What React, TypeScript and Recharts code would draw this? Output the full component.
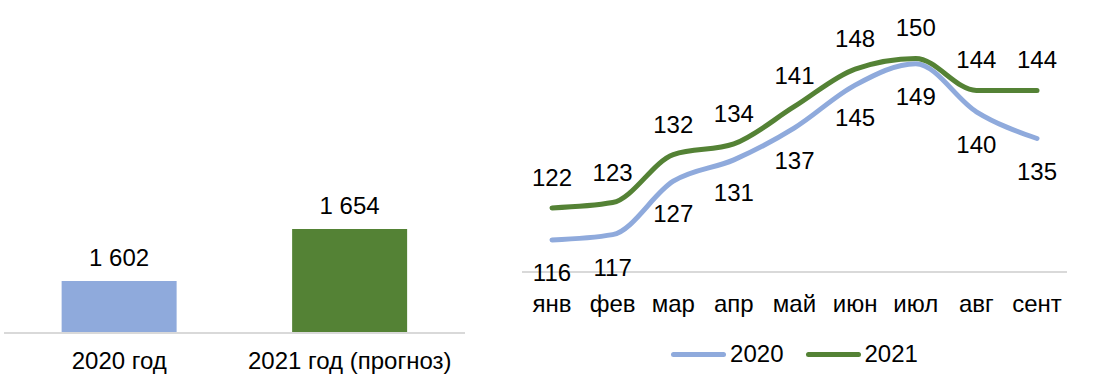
import React from 'react';
import { BarChart, Bar, LineChart, Line, XAxis, YAxis, LabelList, Legend, Cell } from 'recharts';

const yearLabels = ['2020 год', '2021 год (прогноз)'];
const yearTotals = [1602, 1654];
const barColors = ['#8FAADC', '#548235'];

const months = ['янв', 'фев', 'мар', 'апр', 'май', 'июн', 'июл', 'авг', 'сент'];
const values2020 = [116, 117, 127, 131, 137, 145, 149, 140, 135];
const values2021 = [122, 123, 132, 134, 141, 148, 150, 144, 144];

const FONT = '"Liberation Sans", Arial, sans-serif';
const textStyle = { fontSize: 24, fill: '#000', fontFamily: FONT };

const barData = yearLabels.map((name, i) => ({ name, value: yearTotals[i] }));
const lineData = months.map((m, i) => ({ month: m, y2020: values2020[i], y2021: values2021[i] }));

const fmtThousands = (v: any) => String(v).replace(/\B(?=(\d{3})+(?!\d))/g, ' ');

const LegendContent = ({ payload }: any) => (
    <div style={{ height: 44, display: 'flex', justifyContent: 'center', alignItems: 'center', fontFamily: FONT, fontSize: 24, color: '#000' }}>
        {(payload || []).map((p: any) => (
            <div key={p.value} style={{ display: 'flex', alignItems: 'center', margin: '0 11px' }}>
                <div style={{ width: 55, height: 5, borderRadius: 3, background: p.color, marginRight: 4 }} />
                <span>{p.value}</span>
            </div>
        ))}
    </div>
);

const App: React.FC = () => {
    return (
        <div style={{ position: 'absolute', left: 0, top: 0, width: 1096, height: 376, background: '#fff', fontFamily: FONT }}>
            <div style={{ position: 'absolute', left: 0, top: 0 }}>
                <BarChart width={470} height={376} data={barData} margin={{ top: 133, right: 5, bottom: 0, left: 4 }} barCategoryGap="25%">
                    <XAxis dataKey="name" height={43} axisLine={{ stroke: '#D9D9D9', strokeWidth: 2 }} tickLine={false} tickMargin={13}
                        tick={textStyle} interval={0} />
                    <YAxis hide domain={[1550, 1750]} />
                    <Bar dataKey="value" isAnimationActive={false}>
                        {barData.map((d, i) => (
                            <Cell key={d.name} fill={barColors[i]} />
                        ))}
                        <LabelList dataKey="value" position="top" offset={15} formatter={fmtThousands} style={textStyle} />
                    </Bar>
                </BarChart>
            </div>
            <div style={{ position: 'absolute', left: 500, top: 0 }}>
                <LineChart width={596} height={376} data={lineData} margin={{ top: 5, right: 29, bottom: 0, left: 22 }}>
                    <XAxis dataKey="month" height={60} padding={{ left: 30, right: 30 }} axisLine={{ stroke: '#D9D9D9', strokeWidth: 2 }}
                        tickLine={false} tickMargin={17} tick={textStyle} interval={0} />
                    <YAxis hide domain={[110, 160]} />
                    <Legend verticalAlign="bottom" content={<LegendContent />} />
                    <Line name="2020" dataKey="y2020" type="monotone" stroke="#8FAADC" strokeWidth={5} strokeLinecap="round"
                        dot={false} isAnimationActive={false}>
                        <LabelList dataKey="y2020" position="bottom" offset={24} style={textStyle} />
                    </Line>
                    <Line name="2021" dataKey="y2021" type="monotone" stroke="#548235" strokeWidth={5} strokeLinecap="round"
                        dot={false} isAnimationActive={false}>
                        <LabelList dataKey="y2021" position="top" offset={22} style={textStyle} />
                    </Line>
                </LineChart>
            </div>
        </div>
    );
};

export default App;
